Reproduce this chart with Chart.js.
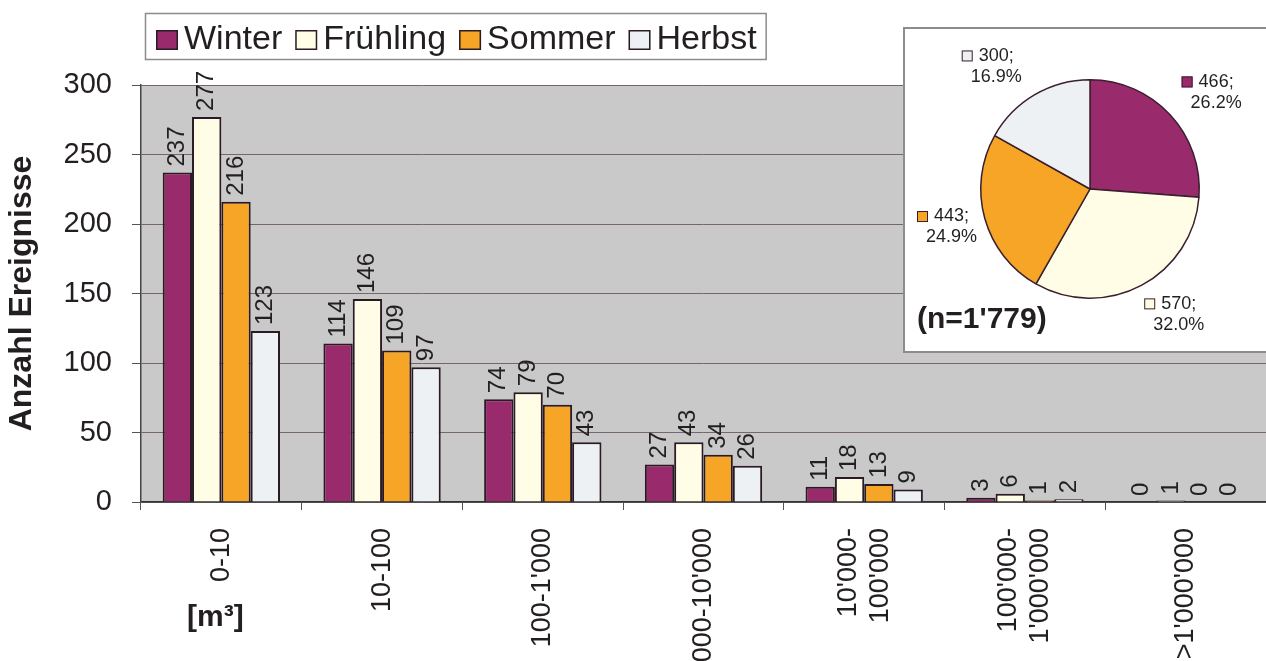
<!DOCTYPE html>
<html><head><meta charset="utf-8">
<script src="https://cdn.jsdelivr.net/npm/chart.js@4/dist/chart.umd.min.js"></script>
<style>
html,body{margin:0;padding:0;background:#fff;}
#wrap{position:relative;width:1266px;height:661px;overflow:hidden;background:#fff;}
#main{position:absolute;left:0;top:0;}
#inset{position:absolute;left:903px;top:27px;width:380px;height:326px;box-sizing:border-box;border:2px solid #8c8c8c;background:#fff;}
#pie{position:absolute;left:0;top:0;}
</style></head>
<body><div id="wrap"><canvas id="main" width="1266" height="661"></canvas>
<div id="inset"><canvas id="pie" width="361" height="322"></canvas></div></div>
<script>
// ---- data ----
const categories = [["0-10"],["10-100"],["100-1'000"],["1'000-10'000"],["10'000-","100'000"],["100'000-","1'000'000"],[">1'000'000"]];
const seriesNames = ["Winter","Frühling","Sommer","Herbst"];
const winter    = [237,114,74,27,11,3,0];
const fruehling = [277,146,79,43,18,6,1];
const sommer    = [216,109,70,34,13,1,0];
const herbst    = [123,97,43,26,9,2,0];
const pieTotals = [466,570,443,300];
const pieN = "(n=1'779)";
const yTicks = [0,50,100,150,200,250,300];
const unitLabel = "[m³]";
const yTitle = "Anzahl Ereignisse";
const seriesColors = ["#992b6d","#fffde6","#f6a526","#eef1f4"];

const FONT = "'Liberation Sans', Arial, Helvetica, sans-serif";
const TXT = '#231f20';

const bgPlugin = {
  id:'bg',
  beforeDraw(chart){
    const {ctx, chartArea:a} = chart;
    ctx.save();
    ctx.fillStyle='#fff'; ctx.fillRect(0,0,chart.width,chart.height);
    ctx.fillStyle='#c9c9c9'; ctx.fillRect(a.left,a.top,a.right-a.left,a.bottom-a.top);
    ctx.restore();
  }
};

const labelPlugin = {
  id:'labels',
  afterDraw(chart){
    const ctx = chart.ctx;
    ctx.save();
    // value labels
    ctx.font = "24px "+FONT; ctx.fillStyle=TXT; ctx.textAlign='left'; ctx.textBaseline='middle';
    chart.data.datasets.forEach((ds,di)=>{
      const meta = chart.getDatasetMeta(di);
      meta.data.forEach((bar,i)=>{
        ctx.save(); ctx.translate(bar.x, bar.y-6); ctx.rotate(-Math.PI/2);
        ctx.fillText(String(ds.data[i]),0,0); ctx.restore();
      });
    });
    // category labels
    const xs = chart.scales.x;
    ctx.font = "27px "+FONT; ctx.textAlign='right'; ctx.textBaseline='middle';
    categories.forEach((lines,i)=>{
      const px = xs.getPixelForValue(i);
      lines.forEach((ln,j)=>{
        const off = (j-(lines.length-1)/2)*32;
        ctx.save(); ctx.translate(px+off, xs.top+26); ctx.rotate(-Math.PI/2);
        ctx.fillText(ln,0,0); ctx.restore();
      });
    });
    // unit
    ctx.font = "bold 30px "+FONT; ctx.textAlign='center'; ctx.textBaseline='middle';
    ctx.fillText(unitLabel, xs.getPixelForValue(0)-6, 618);
    // legend
    ctx.font = "34px "+FONT; ctx.textAlign='left'; ctx.textBaseline='alphabetic';
    let x = 156;
    const items = chart.data.datasets.map(ds=>{
      const it = {x, label:ds.label, color:ds.backgroundColor};
      x += 28 + ctx.measureText(ds.label).width + 13;
      return it;
    });
    const boxR = x - 13 + 9;
    ctx.fillStyle='#fff'; ctx.fillRect(145,13,boxR-145,46);
    ctx.strokeStyle='#8c8c8c'; ctx.lineWidth=1.5; ctx.strokeRect(145.5,13.5,boxR-145,46);
    items.forEach(it=>{
      ctx.fillStyle=it.color; ctx.fillRect(it.x,30,22,20);
      ctx.strokeStyle='#2b1a24'; ctx.lineWidth=1.5; ctx.strokeRect(it.x+0.75,30.75,20.5,18.5);
      ctx.fillStyle=TXT; ctx.fillText(it.label, it.x+28, 49);
    });
    ctx.restore();
  }
};

new Chart(document.getElementById('main'), {
  type:'bar',
  data:{
    labels: categories.map(c=>c.join(' ')),
    datasets:[
      {label:seriesNames[0], data:winter,    backgroundColor:seriesColors[0]},
      {label:seriesNames[1], data:fruehling, backgroundColor:seriesColors[1]},
      {label:seriesNames[2], data:sommer,    backgroundColor:seriesColors[2]},
      {label:seriesNames[3], data:herbst,    backgroundColor:seriesColors[3]}
    ]
  },
  options:{
    responsive:false, animation:false, devicePixelRatio:1,
    layout:{padding:{left:0,right:0,top:85,bottom:0}},
    datasets:{bar:{categoryPercentage:0.73, barPercentage:1, borderColor:'#2b1a24', borderWidth:2}},
    plugins:{legend:{display:false}, tooltip:{enabled:false}},
    scales:{
      x:{
        ticks:{display:false},
        grid:{display:true, drawOnChartArea:false, drawTicks:true, tickLength:8, tickColor:'#555', offset:true},
        border:{display:true, color:'#333', width:1.5},
        afterFit(s){ s.height = 159; }
      },
      y:{
        min:0, max:300,
        afterBuildTicks(s){ s.ticks = yTicks.map(v=>({value:v})); },
        ticks:{font:{size:29, family:FONT}, color:TXT, padding:20},
        grid:{color:'#76656f', lineWidth:1, tickLength:9, tickColor:'#555'},
        border:{display:true, color:'#444', width:1.5},
        title:{display:true, text:yTitle, font:{size:32, weight:'bold', family:FONT}, color:TXT, padding:{top:3,bottom:0}},
        afterFit(s){ s.width = 141; }
      }
    }
  },
  plugins:[bgPlugin, labelPlugin]
});

const pieLabels = {
  id:'pieLabels',
  afterDraw(chart){
    const ctx = chart.ctx;
    const meta = chart.getDatasetMeta(0);
    const total = pieTotals.reduce((a,b)=>a+b,0);
    ctx.save();
    ctx.font = '18px '+FONT; ctx.textBaseline='middle'; ctx.textAlign='center';
    meta.data.forEach((arc,i)=>{
      const mid = (arc.startAngle+arc.endAngle)/2;
      const r = arc.outerRadius;
      const ux = Math.cos(mid), uy = Math.sin(mid);
      let cx = arc.x + 1.3*r*ux + 22*Math.sign(ux);
      const cy = arc.y + 1.3*r*uy;
      const l1 = pieTotals[i]+';';
      const l2 = (pieTotals[i]/total*100).toFixed(1)+'%';
      const w1 = ctx.measureText(l1).width;
      const minCx = 12 + 17 + w1/2;
      if (cx < minCx) cx = minCx;
      ctx.fillStyle = TXT;
      ctx.fillText(l1, cx, cy-10.5);
      ctx.fillText(l2, cx, cy+10.5);
      const sx = cx - w1/2 - 17;
      ctx.fillStyle = seriesColors[i]; ctx.fillRect(sx, cy-16, 11, 11);
      ctx.strokeStyle = '#3a1f2e'; ctx.lineWidth = 1; ctx.strokeRect(sx+0.5, cy-15.5, 10, 10);
    });
    ctx.font = 'bold 30px '+FONT; ctx.textAlign='left'; ctx.fillStyle=TXT;
    ctx.fillText(pieN, 12, 291);
    ctx.restore();
  }
};

new Chart(document.getElementById('pie'), {
  type:'pie',
  data:{labels:seriesNames, datasets:[{data:pieTotals, backgroundColor:seriesColors, borderColor:'#3a1f2e', borderWidth:1.5}]},
  options:{
    responsive:false, animation:false, devicePixelRatio:1,
    layout:{padding:{left:75, top:50, right:66, bottom:52}},
    plugins:{legend:{display:false}, tooltip:{enabled:false}}
  },
  plugins:[pieLabels]
});
</script>
</body></html>
